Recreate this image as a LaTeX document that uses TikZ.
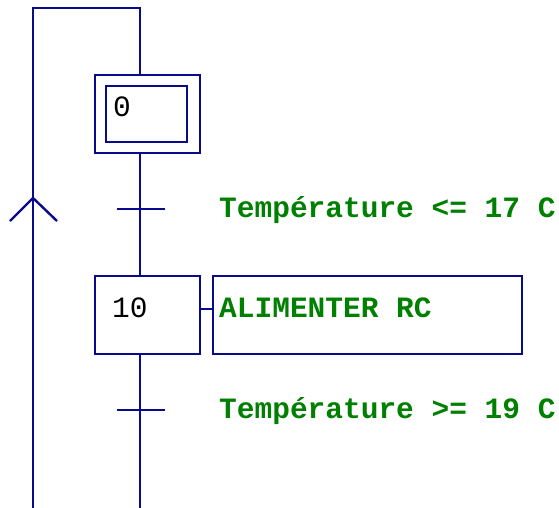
\documentclass[tikz,border=0pt]{standalone}
\usepackage{fontspec}
\newfontfamily\grafmono{Liberation Mono}
\definecolor{grnavy}{RGB}{10,10,140}
\definecolor{grgreen}{RGB}{0,128,0}
\begin{document}
\begin{tikzpicture}[x=1pt,y=-1pt,
  ln/.style={draw=grnavy,line width=2.4pt},
  stepbox/.style={draw=grnavy,line width=2.4pt,inner sep=0pt,minimum width=105pt,minimum height=78pt},
  innerbox/.style={draw=grnavy,line width=2.4pt,inner sep=0pt,minimum width=81pt,minimum height=56pt},
  actbox/.style={draw=grnavy,line width=2.4pt,inner sep=0pt,minimum width=309pt,minimum height=78pt},
  trans/.style={inner sep=0pt,minimum width=48pt,minimum height=0pt},
  num/.style={inner sep=0pt,anchor=base west,text=black,font=\grafmono\fontsize{29.5}{30}\selectfont},
  lbl/.style={inner sep=0pt,anchor=base west,text=grgreen,font=\grafmono\bfseries\fontsize{29.5}{30}\selectfont}]
\useasboundingbox (0,0) rectangle (559,508);
\clip (0,0) rectangle (559,508);
% steps
\node[stepbox] (s0) at (147.5,114) {};
\node[innerbox] (s0i) at (146.5,114) {};
\node[num] (n0) at (113,117) {0};
\node[stepbox] (s10) at (147.5,315) {};
\node[num] (n10) at (112,317) {10};
\node[actbox] (a10) at (367.5,315) {};
\node[lbl] (a10t) at (219,317) {ALIMENTER RC};
% transitions
\node[trans] (t1) at (141,209) {};
\node[trans] (t2) at (141,410) {};
\node[lbl] (t1t) at (219,217) {Température <= 17 C};
\node[lbl] (t2t) at (219,418) {Température >= 19 C};
% coordinates
\coordinate (sx) at (140,0);
\coordinate (ly) at (0,309);
\coordinate (tl) at (33,8);
\coordinate (bl) at (33,508);
\coordinate (br) at (140,508);
\coordinate (ap) at (33,198);
\coordinate (al) at (10,221);
\coordinate (ar) at (57,221);
% links
\draw[ln] (bl) -- (tl) -| (s0.north -| sx);
\draw[ln] (s0.south -| sx) -- (s10.north -| sx);
\draw[ln] (s10.south -| sx) -- (br);
\draw[ln] (t1.west) -- (t1.east);
\draw[ln] (t2.west) -- (t2.east);
\draw[ln] (s10.east |- ly) -- (a10.west |- ly);
\draw[ln] (al) -- (ap) -- (ar);
\end{tikzpicture}
\end{document}
